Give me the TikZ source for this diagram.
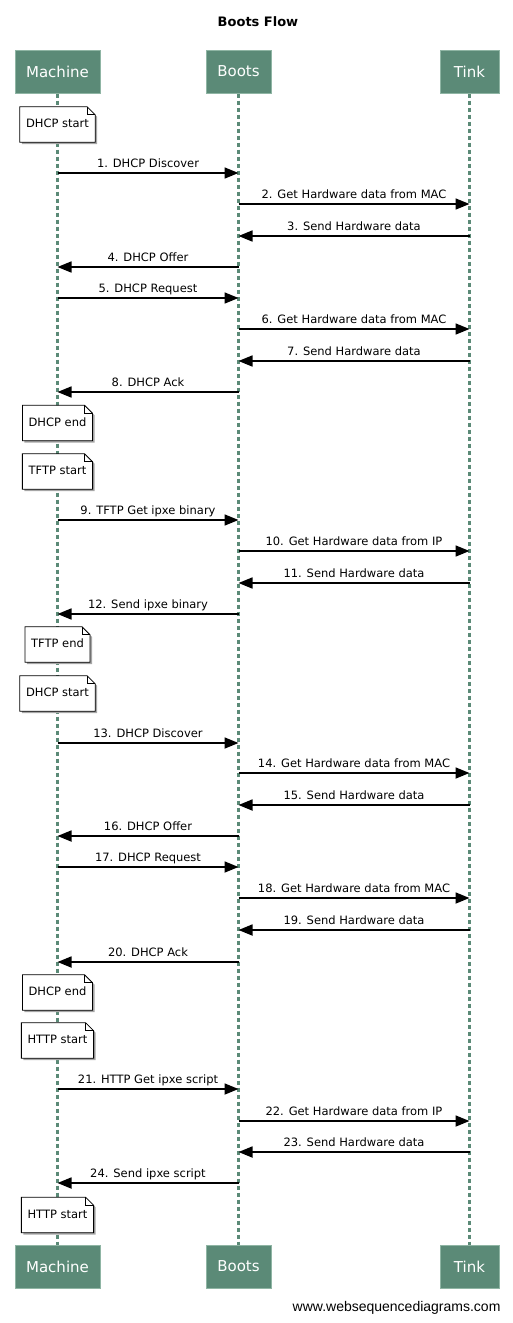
\documentclass[tikz,border=0pt]{standalone}
\usepackage{fontspec}
\setmainfont{DejaVu Sans}
\newfontfamily\footfont{Liberation Sans}
\usetikzlibrary{arrows.meta}
\pgfdeclarelayer{back}
\pgfdeclarelayer{mid}
\pgfsetlayers{back,mid,main}
\definecolor{actorfill}{HTML}{5B8A77}
\definecolor{actorline}{HTML}{8FB5A4}
\tikzset{
  actor/.style={fill=actorfill, draw=actorline, line width=1pt, text=white, font=\fontsize{15}{18}\selectfont, minimum height=43pt, inner sep=0pt},
  lifeline/.style={draw=actorfill, line width=2.6pt, dash pattern=on 4.5pt off 2.5pt},
  msg/.style={draw, line width=1.7pt, -{Triangle[length=14pt,width=11pt]}},
  msglabel/.style={font=\fontsize{11.5}{13}\selectfont, above=1pt, inner sep=1pt, text height=9pt, text depth=2.5pt},
  notetext/.style={font=\fontsize{11.5}{13}\selectfont, minimum height=35pt, inner xsep=6pt, inner ysep=0pt, text height=9pt, text depth=2.5pt},
  notebox/.style={draw=black, fill=white, line width=0.8pt},
  noteshadow/.style={fill=black!35, transform canvas={shift={(2pt,-2pt)}}}
}
\newcommand\seqnote[3]{%
  \node[notetext] (#1) at (57.5,#2) {#3};
  \begin{pgfonlayer}{mid}
  \fill[noteshadow] (#1.south west) -- (#1.north west) -- ([xshift=-8pt]#1.north east) -- ([yshift=-8pt]#1.north east) -- (#1.south east) -- cycle;
  \draw[notebox] (#1.south west) -- (#1.north west) -- ([xshift=-8pt]#1.north east) -- ([yshift=-8pt]#1.north east) -- (#1.south east) -- cycle;
  \draw[line width=0.8pt] ([xshift=-8pt]#1.north east) |- ([yshift=-8pt]#1.north east);
  \end{pgfonlayer}
}

\begin{document}
\begin{tikzpicture}[x=1pt,y=1pt]
\useasboundingbox (0,0) rectangle (513,-1323);
\node[font=\bfseries\fontsize{13}{16}\selectfont, anchor=base] (title) at (258,-26) {Boots Flow};
\node[actor, minimum width=85pt] (machine) at (57.5,-71.5) {Machine};
\node[actor, minimum width=65pt] (boots) at (238.5,-71.5) {Boots};
\node[actor, minimum width=59pt] (tink) at (469.5,-71.5) {Tink};
\node[actor, minimum width=85pt] (machineEnd) at (57.5,-1266.5) {Machine};
\node[actor, minimum width=65pt] (bootsEnd) at (238.5,-1266.5) {Boots};
\node[actor, minimum width=59pt] (tinkEnd) at (469.5,-1266.5) {Tink};
\begin{pgfonlayer}{back}
\draw[lifeline] (machine.south) -- (machineEnd.north);
\draw[lifeline] (boots.south) -- (bootsEnd.north);
\draw[lifeline] (tink.south) -- (tinkEnd.north);
\end{pgfonlayer}
\seqnote{dhcpStartA}{-124.5}{DHCP start}
\draw[msg] (machine |- 0,-173) -- node[msglabel] {1. DHCP Discover} (boots |- 0,-173);
\draw[msg] (boots |- 0,-204) -- node[msglabel] {2. Get Hardware data from MAC} (tink |- 0,-204);
\draw[msg] (tink |- 0,-236) -- node[msglabel] {3. Send Hardware data} (boots |- 0,-236);
\draw[msg] (boots |- 0,-267) -- node[msglabel] {4. DHCP Offer} (machine |- 0,-267);
\draw[msg] (machine |- 0,-298) -- node[msglabel] {5. DHCP Request} (boots |- 0,-298);
\draw[msg] (boots |- 0,-329) -- node[msglabel] {6. Get Hardware data from MAC} (tink |- 0,-329);
\draw[msg] (tink |- 0,-361) -- node[msglabel] {7. Send Hardware data} (boots |- 0,-361);
\draw[msg] (boots |- 0,-392) -- node[msglabel] {8. DHCP Ack} (machine |- 0,-392);
\seqnote{dhcpEndA}{-423}{DHCP end}
\seqnote{tftpStart}{-471.5}{TFTP start}
\draw[msg] (machine |- 0,-520) -- node[msglabel] {9. TFTP Get ipxe binary} (boots |- 0,-520);
\draw[msg] (boots |- 0,-551) -- node[msglabel] {10. Get Hardware data from IP} (tink |- 0,-551);
\draw[msg] (tink |- 0,-583) -- node[msglabel] {11. Send Hardware data} (boots |- 0,-583);
\draw[msg] (boots |- 0,-614) -- node[msglabel] {12. Send ipxe binary} (machine |- 0,-614);
\seqnote{tftpEnd}{-644.5}{TFTP end}
\seqnote{dhcpStartB}{-693.5}{DHCP start}
\draw[msg] (machine |- 0,-743) -- node[msglabel] {13. DHCP Discover} (boots |- 0,-743);
\draw[msg] (boots |- 0,-773) -- node[msglabel] {14. Get Hardware data from MAC} (tink |- 0,-773);
\draw[msg] (tink |- 0,-805) -- node[msglabel] {15. Send Hardware data} (boots |- 0,-805);
\draw[msg] (boots |- 0,-836) -- node[msglabel] {16. DHCP Offer} (machine |- 0,-836);
\draw[msg] (machine |- 0,-867) -- node[msglabel] {17. DHCP Request} (boots |- 0,-867);
\draw[msg] (boots |- 0,-898) -- node[msglabel] {18. Get Hardware data from MAC} (tink |- 0,-898);
\draw[msg] (tink |- 0,-930) -- node[msglabel] {19. Send Hardware data} (boots |- 0,-930);
\draw[msg] (boots |- 0,-962) -- node[msglabel] {20. DHCP Ack} (machine |- 0,-962);
\seqnote{dhcpEndB}{-992.5}{DHCP end}
\seqnote{httpStartA}{-1040.5}{HTTP start}
\draw[msg] (machine |- 0,-1089) -- node[msglabel] {21. HTTP Get ipxe script} (boots |- 0,-1089);
\draw[msg] (boots |- 0,-1121) -- node[msglabel] {22. Get Hardware data from IP} (tink |- 0,-1121);
\draw[msg] (tink |- 0,-1152) -- node[msglabel] {23. Send Hardware data} (boots |- 0,-1152);
\draw[msg] (boots |- 0,-1183) -- node[msglabel] {24. Send ipxe script} (machine |- 0,-1183);
\seqnote{httpStartB}{-1215}{HTTP start}
\node[font=\footfont\fontsize{14}{16}\selectfont, anchor=base east] (footer) at (504,-1311.5) {www.websequencediagrams.com};
\end{tikzpicture}
\end{document}
